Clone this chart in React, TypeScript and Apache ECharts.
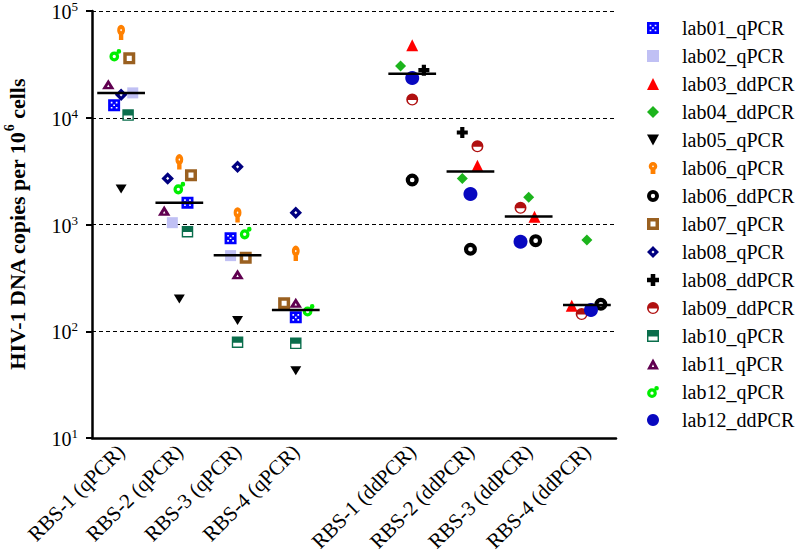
import React, { useEffect, useRef } from "react";
import * as echarts from "echarts";

// ---------- data ----------
const CATEGORIES = [
  "RBS-1 (qPCR)", "RBS-2 (qPCR)", "RBS-3 (qPCR)", "RBS-4 (qPCR)", "",
  "RBS-1 (ddPCR)", "RBS-2 (ddPCR)", "RBS-3 (ddPCR)", "RBS-4 (ddPCR)",
];
const QPCR_COLS = [0, 1, 2, 3];
const DDPCR_COLS = [5, 6, 7, 8];
const Y_TICK_EXPONENTS = [1, 2, 3, 4, 5];

// values per RBS sample (qPCR labs -> qPCR columns, ddPCR labs -> ddPCR columns)
const lab01_qPCR = [13100, 1600, 743, 135];
const lab02_qPCR = [17100, 1040, 511, null];
const lab03_ddPCR = [47800, 3550, 1183, 173];
const lab04_ddPCR = [30600, 2700, 1800, 716];
const lab05_qPCR = [2150, 201, 126, 42.6];
const lab06_qPCR = [63000, 3870, 1230, 538];
const lab06_ddPCR = [2610, 586, 706, 179];
const lab07_qPCR = [36000, 2900, 489, 183];
const lab08_qPCR = [16400, 2700, 3470, 1290];
const lab08_ddPCR = [27900, 7280, null, null];
const lab09_ddPCR = [14800, 5420, 1435, 145];
const lab10_qPCR = [10600, 857, 79, 77];
const lab11_qPCR = [20600, 1350, 342, 185];
const lab12_qPCR = [38500, 2190, 830, 157];
const lab12_ddPCR = [23600, 1930, 690, 158];

const MEDIANS = [17100, 1600, 515, 158, null, 25800, 3130, 1190, 176];

// ---------- layout (horizontal scatter jitter, in category units) ----------
const JITTER: Record<string, number[]> = {
  lab01_qPCR: [-0.12, 0.14, -0.12, 0],
  lab02_qPCR: [0.2, -0.12, -0.12, 0],
  lab03_ddPCR: [0, 0.12, 0.1, -0.26],
  lab04_ddPCR: [-0.2, -0.14, 0, 0],
  lab05_qPCR: [0, 0, 0, 0],
  lab06_qPCR: [0, 0, 0, 0],
  lab06_ddPCR: [0, 0, 0.12, 0.24],
  lab07_qPCR: [0.14, 0.2, 0.14, -0.2],
  lab08_qPCR: [0, -0.2, 0, 0],
  lab08_ddPCR: [0.2, -0.14, 0, 0],
  lab09_ddPCR: [0, 0.12, -0.14, -0.09],
  lab10_qPCR: [0.12, 0.14, 0, 0],
  lab11_qPCR: [-0.22, -0.26, 0, 0],
  lab12_qPCR: [-0.1, 0, 0.14, 0.22],
  lab12_ddPCR: [0, 0, -0.14, 0.07],
};

// ---------- symbols ----------
const P_XSQ = "path://M0 0L100 0L100 100L0 100Z M22 22L22 36L36 36L36 22Z M64 22L64 36L78 36L78 22Z M22 64L22 78L36 78L36 64Z M64 64L64 78L78 78L78 64Z M43 43L43 57L57 57L57 43Z";
const P_DOWN_TRI = "path://M0 0L100 0L50 90Z";
const P_PIN = "path://M0 50A50 50 0 1 1 100 50A50 50 0 1 1 0 50Z M22 80L78 80L78 140L22 140Z M40 50A10 10 0 1 0 60 50A10 10 0 1 0 40 50Z";
const P_RING = "path://M0 50A50 50 0 1 1 100 50A50 50 0 1 1 0 50Z M32 50A18 18 0 1 0 68 50A18 18 0 1 0 32 50Z";
const P_OPEN_SQ = "path://M0 0L100 0L100 100L0 100Z M29 29L29 71L71 71L71 29Z";
const P_OPEN_DIA = "path://M50 0L100 50L50 100L0 50Z M50 37L37 50L50 63L63 50Z";
const P_PLUS = "path://M31 0L69 0L69 31L100 31L100 69L69 69L69 100L31 100L31 69L0 69L0 31L31 31Z";
const P_HALF_CIRC = "path://M0 50A50 50 0 1 1 100 50A50 50 0 1 1 0 50Z M14 54A36 36 0 0 0 86 54Z";
const P_HALF_SQ = "path://M0 0L100 0L100 100L0 100Z M12 54L12 88L88 88L88 54Z";
const P_OPEN_TRI = "path://M50 0L100 90L0 90Z M50 48L40 70L60 70Z";
const P_RING_DOT = "path://M0 62A38 38 0 1 1 76 62A38 38 0 1 1 0 62Z M25 62A13 13 0 1 0 51 62A13 13 0 1 0 25 62Z M56 24A18 18 0 1 1 92 24A18 18 0 1 1 56 24Z";

const STYLE: Record<string, { symbol: string; size: number | number[]; color: string }> = {
  lab01_qPCR: { symbol: P_XSQ, size: 12, color: "#0000ff" },
  lab02_qPCR: { symbol: "rect", size: 11, color: "#c0c0f4" },
  lab03_ddPCR: { symbol: "triangle", size: 12, color: "#ff0000" },
  lab04_ddPCR: { symbol: "diamond", size: 11, color: "#1cb41c" },
  lab05_qPCR: { symbol: P_DOWN_TRI, size: [11, 10], color: "#000000" },
  lab06_qPCR: { symbol: P_PIN, size: [11, 15.4], color: "#ff8000" },
  lab06_ddPCR: { symbol: P_RING, size: 13, color: "#000000" },
  lab07_qPCR: { symbol: P_OPEN_SQ, size: 12, color: "#9a6020" },
  lab08_qPCR: { symbol: P_OPEN_DIA, size: 12.5, color: "#000080" },
  lab08_ddPCR: { symbol: P_PLUS, size: 11, color: "#000000" },
  lab09_ddPCR: { symbol: P_HALF_CIRC, size: 12, color: "#b01010" },
  lab10_qPCR: { symbol: P_HALF_SQ, size: 11.5, color: "#0a6e4c" },
  lab11_qPCR: { symbol: P_OPEN_TRI, size: [12.5, 11.2], color: "#600050" },
  lab12_qPCR: { symbol: P_RING_DOT, size: [12, 12.5], color: "#00ee00" },
  lab12_ddPCR: { symbol: "circle", size: 14, color: "#0808c0" },
};

const LABS: { name: string; values: (number | null)[] }[] = [
  { name: "lab01_qPCR", values: lab01_qPCR },
  { name: "lab02_qPCR", values: lab02_qPCR },
  { name: "lab03_ddPCR", values: lab03_ddPCR },
  { name: "lab04_ddPCR", values: lab04_ddPCR },
  { name: "lab05_qPCR", values: lab05_qPCR },
  { name: "lab06_qPCR", values: lab06_qPCR },
  { name: "lab06_ddPCR", values: lab06_ddPCR },
  { name: "lab07_qPCR", values: lab07_qPCR },
  { name: "lab08_qPCR", values: lab08_qPCR },
  { name: "lab08_ddPCR", values: lab08_ddPCR },
  { name: "lab09_ddPCR", values: lab09_ddPCR },
  { name: "lab10_qPCR", values: lab10_qPCR },
  { name: "lab11_qPCR", values: lab11_qPCR },
  { name: "lab12_qPCR", values: lab12_qPCR },
  { name: "lab12_ddPCR", values: lab12_ddPCR },
];

const FONT = "'Liberation Serif', 'Times New Roman', serif";

export default function App() {
  const ref = useRef<HTMLDivElement>(null);
  useEffect(() => {
    document.body.style.margin = "0";
    if (!ref.current) return;
    const chart = echarts.init(ref.current, null, { renderer: "svg" });

    const scatterSeries = LABS.map((lab) => {
      const cols = lab.name.endsWith("ddPCR") ? DDPCR_COLS : QPCR_COLS;
      const jit = JITTER[lab.name];
      const data = lab.values
        .map((v, i) => (v == null ? null : [cols[i] + jit[i], v]))
        .filter((d) => d != null);
      const st = STYLE[lab.name];
      return {
        name: lab.name,
        type: "scatter",
        xAxisIndex: 1,
        yAxisIndex: 0,
        symbol: st.symbol,
        symbolSize: st.size,
        symbolKeepAspect: true,
        itemStyle: { color: st.color, opacity: 1 },
        data,
        z: 2,
      };
    });

    const medianData = MEDIANS.map((m, i) => (m == null ? null : [i, m])).filter((d) => d != null);

    const option = {
      animation: false,
      textStyle: { fontFamily: FONT, color: "#000" },
      grid: { left: 92, right: 181, top: 11, bottom: 117, outerBoundsMode: "none", containLabel: false },
      legend: {
        orient: "vertical",
        left: 647,
        top: 18,
        padding: 0,
        itemWidth: 12,
        itemHeight: 12,
        itemGap: 8,
        data: LABS.map((l) => l.name),
        textStyle: { fontSize: 20, fontFamily: FONT, color: "#000", padding: [0, 0, 0, 18] },
      },
      xAxis: [
        {
          type: "category",
          data: CATEGORIES,
          boundaryGap: true,
          axisLine: { onZero: false, lineStyle: { color: "#000", width: 2.5 } },
          axisTick: { alignWithLabel: true, length: 6, lineStyle: { color: "#000", width: 2 }, interval: 0 },
          axisLabel: { interval: 0, rotate: 45, fontSize: 21, fontFamily: FONT, color: "#000", margin: 10 },
          splitLine: { show: false },
        },
        { type: "value", min: -0.5, max: 8.5, show: false, axisLine: { onZero: false }, splitLine: { show: false } },
      ],
      yAxis: {
        type: "log",
        logBase: 10,
        min: Math.pow(10, Y_TICK_EXPONENTS[0]),
        max: Math.pow(10, Y_TICK_EXPONENTS[Y_TICK_EXPONENTS.length - 1]),
        name: "{t|HIV-1 DNA copies per 10}{ts|6}{t| cells}",
        nameLocation: "middle",
        nameRotate: 90,
        nameGap: 64,
        nameMoveOverlap: false,
        nameTextStyle: {
          rich: {
            t: { fontSize: 22, fontWeight: "bold", fontFamily: FONT, color: "#000", lineHeight: 26, verticalAlign: "bottom" },
            ts: { fontSize: 14, fontWeight: "bold", fontFamily: FONT, color: "#000", lineHeight: 14, verticalAlign: "top" },
          },
        },
        axisLine: { show: true, onZero: false, lineStyle: { color: "#000", width: 2.5 } },
        axisTick: { show: true, length: 6, lineStyle: { color: "#000", width: 2 } },
        minorTick: { show: false },
        axisLabel: {
          margin: 14,
          formatter: (v: number) => `{b|10}{s|${Math.round(Math.log10(v))}}`,
          rich: {
            b: { fontSize: 20, fontFamily: FONT, color: "#000", lineHeight: 22, verticalAlign: "bottom" },
            s: { fontSize: 13, fontFamily: FONT, color: "#000", lineHeight: 13, verticalAlign: "top" },
          },
        },
        splitLine: { show: true, lineStyle: { color: "#000", width: 1, type: [4, 3] } },
      },
      series: [
        ...scatterSeries,
        {
          name: "median",
          type: "custom",
          xAxisIndex: 1,
          yAxisIndex: 0,
          z: 5,
          data: medianData,
          renderItem: (params: any, api: any) => {
            const c = api.value(0);
            const m = api.value(1);
            const p1 = api.coord([c - 0.41, m]);
            const p2 = api.coord([c + 0.41, m]);
            return {
              type: "line",
              shape: { x1: p1[0], y1: p1[1], x2: p2[0], y2: p2[1] },
              style: { stroke: "#000", lineWidth: 2.5 },
            };
          },
        },
      ],
    };
    chart.setOption(option as any);
    return () => chart.dispose();
  }, []);
  return <div ref={ref} style={{ width: 797, height: 555 }} />;
}
